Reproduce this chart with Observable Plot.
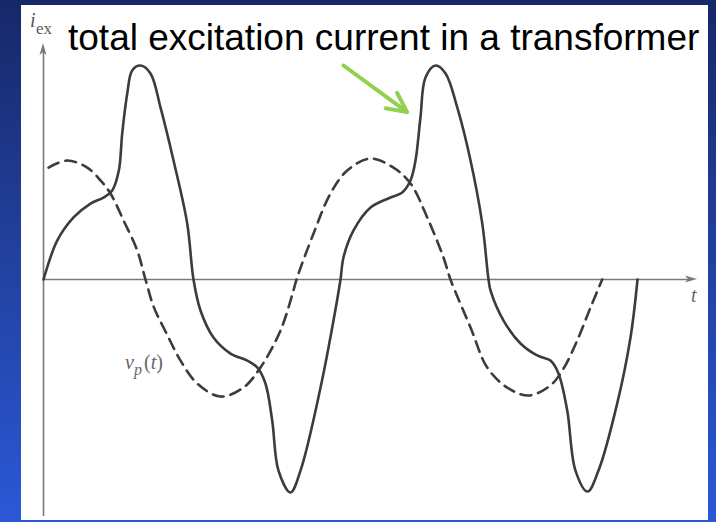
<!DOCTYPE html>
<html>
<head>
<meta charset="utf-8">
<script src="https://cdn.jsdelivr.net/npm/d3@7"></script>
<script src="https://cdn.jsdelivr.net/npm/@observablehq/plot@0.6"></script>
<style>
  html, body { margin: 0; padding: 0; }
  #stage { position: relative; width: 716px; height: 522px; overflow: hidden;
           background: linear-gradient(to bottom, #172869 0%, #22419f 50%, #2b58d8 100%); }
  #panel { position: absolute; left: 21px; top: 5px; width: 687px; height: 515px; background: #ffffff; }
  #chart { position: absolute; left: 0; top: 0; }
  #labels { position: absolute; left: 0; top: 0; }
</style>
</head>
<body>
<div id="stage">
  <div id="panel"></div>
  <div id="chart"></div>
  <svg id="labels" width="716" height="522">
    <text x="68" y="50" font-family="Liberation Sans, Arial, sans-serif" font-size="37" fill="#000">total excitation current in a transformer</text>
    <text font-family="Liberation Serif, Times New Roman, serif" fill="#5a5a5a">
      <tspan x="30" y="27" font-style="italic" font-size="20">i</tspan><tspan x="36" y="34" font-size="17">ex</tspan>
    </text>
    <text font-family="Liberation Serif, Times New Roman, serif" fill="#666">
      <tspan x="125" y="369" font-style="italic" font-size="20">v</tspan><tspan x="134" y="375" font-style="italic" font-size="16">p</tspan><tspan x="144" y="369" font-size="20">(</tspan><tspan font-style="italic" font-size="20">t</tspan><tspan font-size="20">)</tspan>
    </text>
    <text x="691" y="302" font-family="Liberation Serif, Times New Roman, serif" font-style="italic" font-size="20" fill="#666">t</text>
  </svg>
</div>
<script>
// ---- data (t in electrical degrees, values relative to current peak) ----
const currentT = [0, 4.5, 16.6, 36.7, 57, 72.7, 83.3, 91.3, 95.4, 101.5, 107.5, 117.6, 129.7, 141.8, 157.6, 174.2, 181.8,
  190.3, 206, 226.7, 246.9, 259, 269, 277.2, 284.8, 299.4, 311.5, 335.8, 351.5, 360,
  363.6, 375.8, 396.4, 420.6, 434.8, 444.8, 450.9, 456.9, 463, 475.2, 487.3, 501.5, 517.6, 531.8, 539.4,
  541.8, 557.6, 578.2, 598.4, 614.5, 624.2, 634.8, 644.8, 659.4, 672.7, 695.4, 711.5, 720];
const currentI = [0, 0.057, 0.182, 0.291, 0.355, 0.383, 0.416, 0.509, 0.682, 0.869, 0.977, 1.0, 0.963, 0.804, 0.556, 0.262, 0,
  -0.145, -0.271, -0.346, -0.379, -0.411, -0.486, -0.659, -0.893, -0.995, -0.893, -0.505, -0.192, 0,
  0.103, 0.229, 0.336, 0.383, 0.407, 0.463, 0.556, 0.757, 0.944, 1.0, 0.963, 0.804, 0.556, 0.262, 0,
  -0.051, -0.192, -0.299, -0.355, -0.379, -0.439, -0.612, -0.893, -0.991, -0.893, -0.579, -0.271, 0];

const voltageT = [6.1, 28.7, 53.0, 69.1, 81.2, 97.0, 113.6, 123.6, 133.7, 149.1, 166.1, 186.3, 214.5, 242.4, 263.0, 287.3,
  303.0, 306.7, 327.3, 347.9, 368.1, 396.4, 424.2, 444.8, 465.1, 484.8, 493.3, 517.6, 537.8, 562.1, 587.9, 614.5,
  630.3, 646.9, 663.0, 677.2];
const voltageV = [0.523, 0.556, 0.523, 0.463, 0.402, 0.276, 0.136, 0, -0.129, -0.252, -0.379, -0.486, -0.547, -0.505, -0.411, -0.238,
  -0.051, 0, 0.215, 0.402, 0.509, 0.565, 0.523, 0.449, 0.290, 0.103, 0, -0.224, -0.411, -0.505, -0.542, -0.495,
  -0.416, -0.285, -0.131, 0];

// axis extents (data units) and annotation arrow (data units)
const tAxisEnd = 792.7;
const yAxisBottom = -1.1075;
const yAxisTop = 1.1028;
const pointer = [{t1: 363.6, v1: 1.0, t2: 440.8, v2: 0.782}];

const current = currentT.map((t, i) => ({t, v: currentI[i]}));
const voltage = voltageT.map((t, i) => ({t, v: voltageV[i]}));

const axisColor = "#7a7a7a";
const axisHeads = (index, scales) => {
  const g = d3.create("svg:g").attr("fill", axisColor);
  const x0 = scales.x(0), y0 = scales.y(0);
  const xe = scales.x(tAxisEnd), yt = scales.y(yAxisTop);
  g.append("path").attr("d", `M${xe},${y0} L${xe - 12},${y0 - 3.5} L${xe - 9},${y0} L${xe - 12},${y0 + 3.5} Z`);
  g.append("path").attr("d", `M${x0},${yt} L${x0 - 3.5},${yt + 12} L${x0},${yt + 9} L${x0 + 3.5},${yt + 12} Z`);
  return g.node();
};

const chart = Plot.plot({
  width: 716,
  height: 522,
  margin: 0,
  style: {background: "transparent", overflow: "visible"},
  x: {domain: [0, tAxisEnd], range: [43, 697], axis: null},
  y: {domain: [yAxisBottom, yAxisTop], range: [516, 43], axis: null},
  marks: [
    Plot.ruleY([0], {x1: 0, x2: tAxisEnd - 8, stroke: axisColor, strokeWidth: 1.6}),
    Plot.ruleX([0], {y1: yAxisBottom, y2: yAxisTop - 0.04, stroke: axisColor, strokeWidth: 1.6}),
    axisHeads,
    Plot.line(voltage, {x: "t", y: "v", curve: "catmull-rom", stroke: "#3c3c3c", strokeWidth: 2.6, strokeDasharray: "11,7"}),
    Plot.line(current, {x: "t", y: "v", curve: "catmull-rom", stroke: "#3c3c3c", strokeWidth: 2.6}),
    Plot.arrow(pointer, {x1: "t1", y1: "v1", x2: "t2", y2: "v2", stroke: "#92d050", strokeWidth: 4, headAngle: 52, headLength: 8.2})
  ]
});
document.getElementById("chart").appendChild(chart);
</script>
</body>
</html>
